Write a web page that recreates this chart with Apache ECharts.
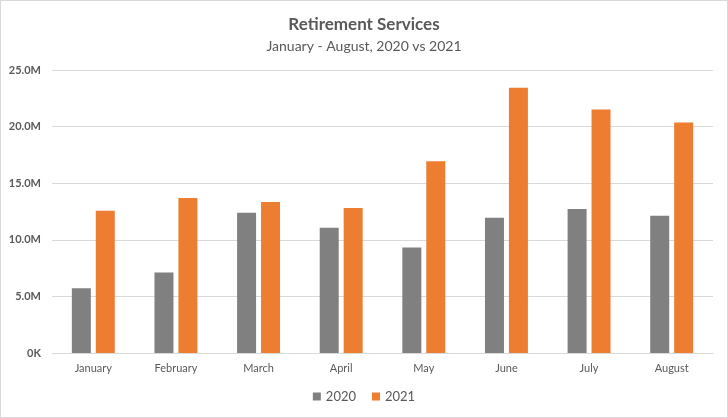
<!DOCTYPE html>
<html><head><meta charset="utf-8">
<script src="https://cdn.jsdelivr.net/npm/echarts@6/dist/echarts.min.js"></script>
<style>html,body{margin:0;padding:0;background:#fff}#c{width:728px;height:418px;box-sizing:border-box;border:1px solid #d9d9d9}</style>
</head><body><div id="c"></div>
<script>
const months = ["January","February","March","April","May","June","July","August"];
const sales2020 = [5.71, 7.11, 12.38, 11.06, 9.31, 11.94, 12.73, 12.12];
const sales2021 = [12.56, 13.70, 13.35, 12.82, 16.94, 23.44, 21.51, 20.37];
const seriesNames = ["2020", "2021"];
const FONT = "Lato, 'Open Sans', sans-serif";
const chart = echarts.init(document.getElementById('c'));
chart.setOption({
  animation: false,
  title: {
    text: "Retirement Services",
    subtext: "January - August, 2020 vs 2021",
    left: 'center', top: 10, itemGap: 6,
    textStyle: {fontFamily: FONT, fontSize: 17, fontWeight: 'bold', color: '#595959'},
    subtextStyle: {fontFamily: FONT, fontSize: 14, color: '#595959'}
  },
  legend: {
    bottom: 9, left: 'center', itemWidth: 8, itemHeight: 8, itemGap: 16,
    icon: 'rect',
    textStyle: {fontFamily: FONT, fontSize: 13, color: '#595959'},
    data: seriesNames
  },
  grid: {left: 51, right: 14, top: 69, bottom: 64, containLabel: false},
  xAxis: {
    type: 'category', data: months,
    axisLine: {lineStyle: {color: '#d9d9d9'}},
    axisTick: {show: false},
    axisLabel: {fontFamily: FONT, fontSize: 11, color: '#595959', margin: 10}
  },
  yAxis: {
    type: 'value', min: 0, max: 25, interval: 5,
    axisLine: {show: false}, axisTick: {show: false},
    splitLine: {lineStyle: {color: '#d9d9d9'}},
    axisLabel: {fontFamily: FONT, fontSize: 11, fontWeight: 'bold', color: '#595959', margin: 11,
      formatter: v => v === 0 ? '0K' : v.toFixed(1) + 'M'}
  },
  series: [
    {name: seriesNames[0], type: 'bar', data: sales2020, barWidth: 19, barGap: '26%', itemStyle: {color: '#808080'}},
    {name: seriesNames[1], type: 'bar', data: sales2021, barWidth: 19, barGap: '26%', itemStyle: {color: '#ed7d31'}}
  ]
});
</script></body></html>
